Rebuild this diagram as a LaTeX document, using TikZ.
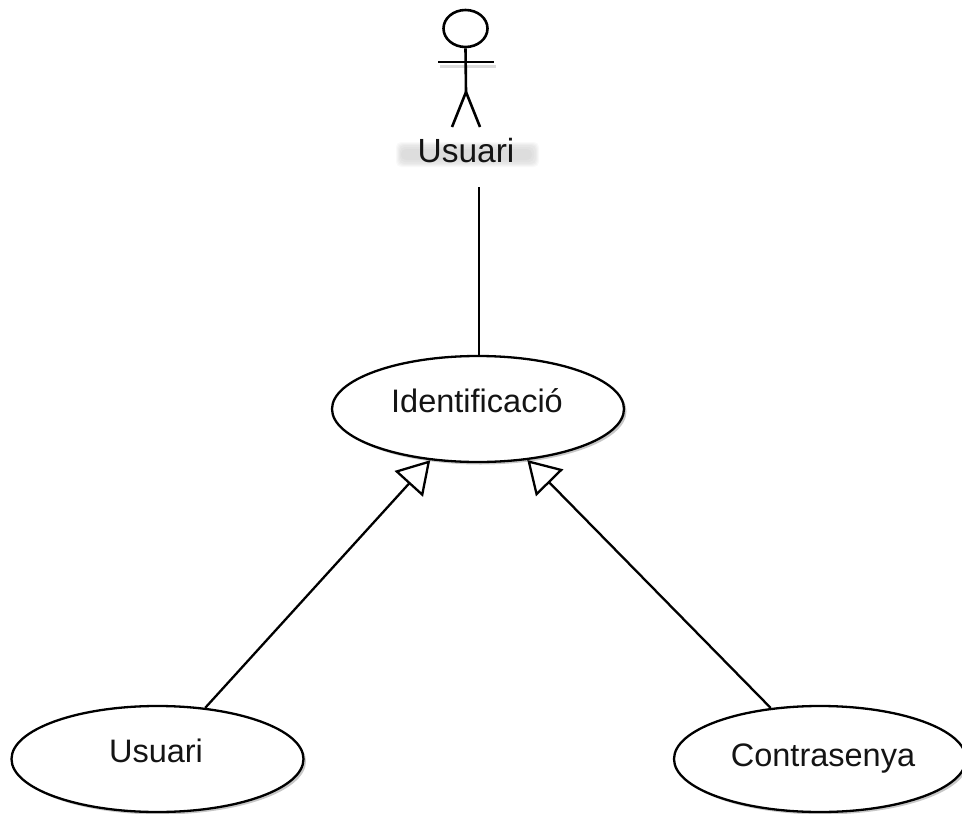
\documentclass[tikz,border=0pt]{standalone}
\usepackage{fontspec}
\setmainfont{Liberation Sans}
\usetikzlibrary{shapes.geometric,shadows,arrows.meta}
\tikzset{
  usecase/.style={ellipse,draw=black,line width=2.3pt,fill=white,minimum width=292pt,minimum height=106pt,inner sep=0pt,
    copy shadow={shadow xshift=2.5pt,shadow yshift=-2.5pt,draw=none,fill=black!22}},
  caption/.style={font=\fontsize{32.5}{36}\selectfont,text=black!92,inner sep=0pt,anchor=base},
  link/.style={draw=black,line width=2.3pt},
  general/.style={link,-{Triangle[open,length=32pt,width=38pt,fill=white]}},
  stick/.style={draw=black,line width=2.6pt},
  smudge/.style={fill=black,opacity=0.022,draw=none,rounded corners=5pt}
}
\begin{document}
\begin{tikzpicture}[x=1pt,y=-1pt]
\useasboundingbox (0,0) rectangle (962,814);
\clip (0,0) rectangle (962,814);
% actor
\fill[black!14] (440,65) rectangle (496,68);
\node[ellipse,draw=black,line width=2.6pt,fill=white,minimum width=44pt,minimum height=37pt,inner sep=0pt] (head) at (465.5,28.5) {};
\coordinate (hip) at (466,92);
\coordinate (armL) at (438,62);
\coordinate (armR) at (494,62);
\coordinate (footL) at (452,127);
\coordinate (footR) at (480,127);
\draw[stick] (head.south) -- (hip);
\draw[stick] (armL) -- (armR);
\draw[stick] (hip) -- (footL);
\draw[stick] (hip) -- (footR);
% smudged label
\fill[smudge] (396,142) rectangle (539,167);
\fill[smudge] (397,143) rectangle (538,166);
\fill[smudge] (398,144) rectangle (537,165);
\fill[smudge] (399,145) rectangle (536,164);
\fill[smudge] (400,147) rectangle (534,162);
\fill[smudge] (401,149) rectangle (532,160);
\node[caption,font=\fontsize{33.5}{36}\selectfont] (actorname) at (466,162) {Usuari};
% use cases
\node[usecase] (id) at (478,409) {};
\node[usecase] (usu) at (157.5,759) {};
\node[usecase] (con) at (820,759) {};
\node[caption] (idtext) at (477,412) {Identificació};
\node[caption] (usutext) at (156,762) {Usuari};
\node[caption] (context) at (823,766) {Contrasenya};
% connectors
\coordinate (actorfoot) at (479,187);
\draw[link] (actorfoot) -- (id.north -| actorfoot);
\draw[general] (usu.47) -- (id.227);
\draw[general] (con.134) -- (id.-46);
\end{tikzpicture}
\end{document}
